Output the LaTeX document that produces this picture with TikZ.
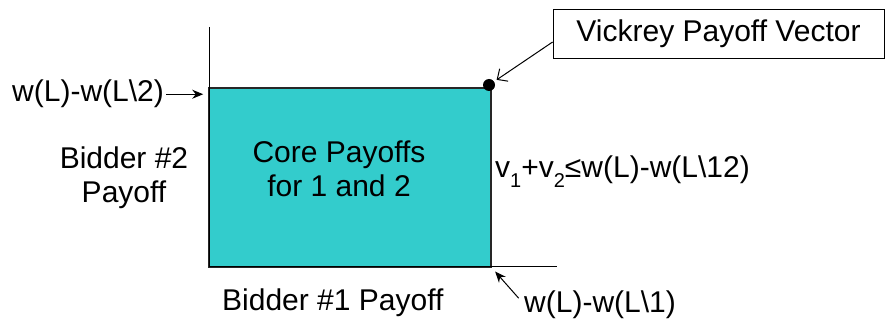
\documentclass[tikz,border=0pt]{standalone}
\usepackage{fontspec}
\setmainfont{Liberation Sans}
\usetikzlibrary{arrows.meta}
\definecolor{coreteal}{RGB}{51,204,204}
\tikzset{
  lbl/.style={font=\fontsize{30}{34.5}\selectfont, inner sep=0pt},
  axis/.style={line width=1pt, draw=black},
  pointer/.style={line width=1pt, -{Stealth[length=11pt,width=9pt]}},
  barb/.style={line width=1pt, -{Straight Barb[length=8pt,width=15pt]}},
}
\begin{document}
\begin{tikzpicture}[x=1pt,y=-1pt]
  \useasboundingbox (0,0) rectangle (885,320);

  % core region
  \node[draw=black!85, line width=1.6pt, fill=coreteal, minimum width=282pt,
        minimum height=179pt, inner sep=0pt] (core) at (350,177.5) {};
  \node[lbl, align=center] (coretext) at (339,168.8) {Core Payoffs\\for 1 and 2};

  % axes
  \coordinate (ytop) at (209,27);
  \coordinate (orig) at (209,266);
  \coordinate (xend) at (557,266);
  \draw[axis] (ytop) -- (orig) -- (xend);

  % Vickrey point and its callout
  \node[circle, fill=black, inner sep=0pt, minimum size=12pt] (vick) at (489,85) {};
  \node[lbl, draw, line width=0.8pt, minimum width=331pt, minimum height=49pt]
       (vbox) at (718.5,33.5) {Vickrey Payoff Vector};
  \draw[barb, shorten >=3pt] ([yshift=-8.5pt]vbox.west) -- (vick);

  % axis labels
  \node[lbl, align=center] (b2) at (124,177.5) {Bidder \#2\\Payoff};
  \node[lbl, anchor=base west] (b1) at (222,310) {Bidder \#1 Payoff};

  % bound on bidder 2
  \node[lbl, anchor=base west] (w2) at (12,102) {w(L)-w(L\textbackslash 2)};
  \draw[pointer, shorten <=2pt, shorten >=5pt] (w2.east) -- (w2.east -| core.west);

  % bound on bidder 1
  \node[lbl, anchor=base west] (w1) at (524,312) {w(L)-w(L\textbackslash 1)};
  \draw[pointer, shorten <=8pt, shorten >=5pt] (w1.west) -- (core.south east);

  % joint constraint
  \node[lbl, anchor=base west] (joint) at (495,178)
    {v\raisebox{-10pt}{\fontsize{20}{20}\selectfont 1}+v\raisebox{-10pt}{\fontsize{20}{20}\selectfont 2}≤w(L)-w(L\textbackslash 12)};
\end{tikzpicture}
\end{document}
